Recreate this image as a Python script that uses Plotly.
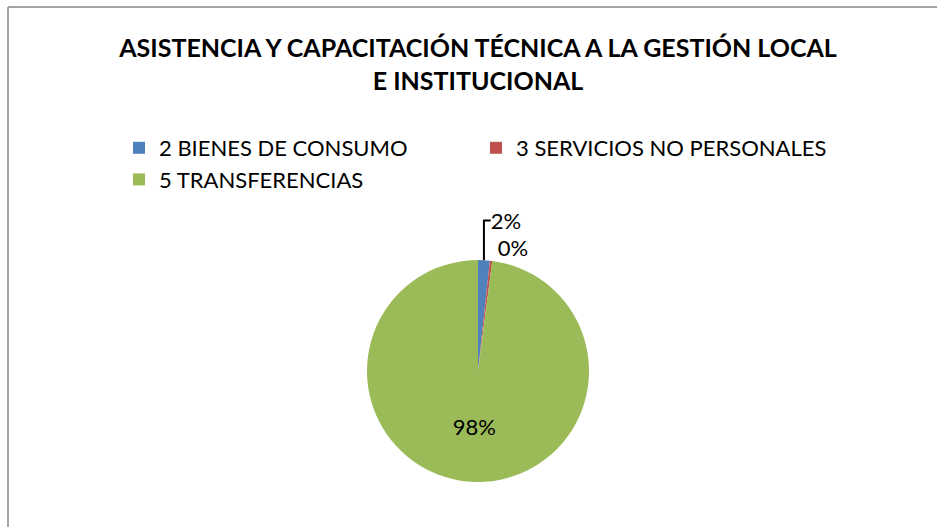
import plotly.graph_objects as go

categories = ["2 BIENES DE CONSUMO", "3 SERVICIOS NO PERSONALES", "5 TRANSFERENCIAS"]
values = [1.7, 0.35, 97.95]
colors = ["#4F81BD", "#C0504D", "#9BBB59"]
title_lines = ["ASISTENCIA Y CAPACITACIÓN TÉCNICA A LA GESTIÓN LOCAL", "E INSTITUCIONAL"]

W, H = 937, 527
cx, cy, r = 478, 371, 111
FONT = "Lato, Liberation Sans, sans-serif"

fig = go.Figure(go.Pie(
    labels=categories,
    values=values,
    marker=dict(colors=colors, line=dict(color="white", width=0)),
    sort=False,
    direction="clockwise",
    rotation=0,
    texttemplate="%{percent:.0%}",
    textposition=["outside", "outside", "inside"],
    insidetextorientation="horizontal",
    textfont=dict(family=FONT, size=22, color="black"),
    outsidetextfont=dict(family=FONT, size=22, color="black"),
    insidetextfont=dict(family=FONT, size=22, color="black"),
    domain=dict(x=[(cx - r) / W, (cx + r) / W], y=[1 - (cy + r) / H, 1 - (cy - r) / H]),
    hoverinfo="label+percent",
))

fig.update_layout(
    width=W, height=H,
    margin=dict(l=0, r=0, t=0, b=0),
    paper_bgcolor="white",
    plot_bgcolor="white",
    font=dict(family=FONT, color="black"),
    title=dict(
        text="<b>" + "<br>".join(title_lines) + "</b>",
        x=478 / W, xanchor="center",
        y=1 - 57 / H, yanchor="top",
        font=dict(size=25, color="black", family=FONT),
    ),
    legend=dict(
        orientation="h",
        x=119 / W, xanchor="left",
        y=1 - 127 / H, yanchor="top",
        font=dict(size=22, color="black"),
        entrywidth=312, entrywidthmode="pixels",
        itemwidth=30,
    ),
    shapes=[
        dict(type="line", xref="paper", yref="paper", x0=8 / W, x1=1, y0=1 - 7 / H, y1=1 - 7 / H,
             line=dict(color="#868686", width=1.5)),
        dict(type="line", xref="paper", yref="paper", x0=8 / W, x1=8 / W, y0=0, y1=1 - 7 / H,
             line=dict(color="#868686", width=1.5)),
    ],
)

fig.write_html("out.html", config={"displayModeBar": False},
               post_script="document.body.style.margin='0';")
